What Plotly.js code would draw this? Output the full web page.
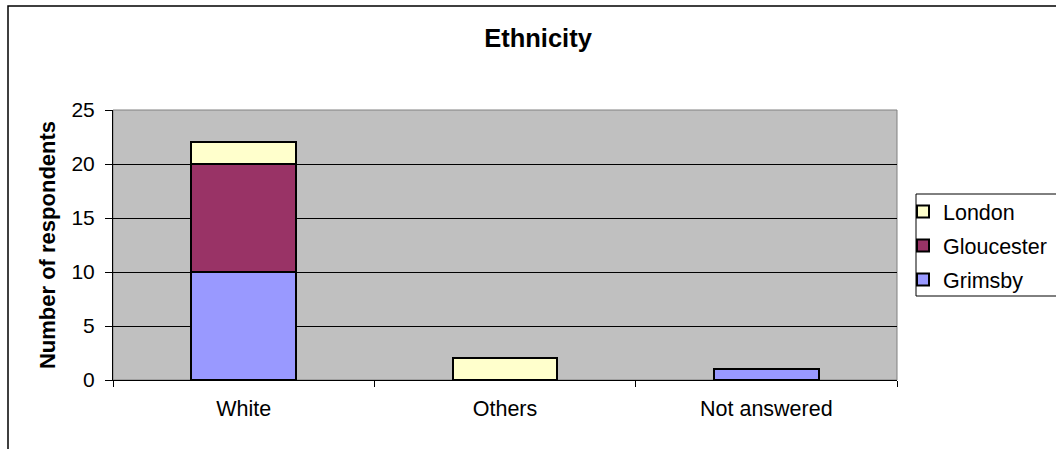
<!DOCTYPE html>
<html>
<head>
<meta charset="utf-8">
<script src="https://cdn.plot.ly/plotly-3.0.1.min.js"></script>
<style>html,body{margin:0;padding:0;background:#fff;}#chart{width:1056px;height:449px;}</style>
</head>
<body>
<div id="chart"></div>
<script>
var categories = ["White", "Others", "Not answered"];
var grimsby = [10, 0, 1];
var gloucester = [10, 0, 0];
var london = [2, 2, 0];
var yTicks = [0, 5, 10, 15, 20, 25];

var font = "Liberation Sans, Arial, sans-serif";
function bar(name, vals, color, grp, rank) {
  return {
    type: "bar", name: name, x: categories, y: vals, legendgroup: grp, legendrank: rank,
    marker: {color: color, line: {color: "#000", width: 2}},
    hoverinfo: "x+y+name"
  };
}
var data = [
  bar("Grimsby", grimsby, "#9999FF", "a", 3),
  bar("Gloucester", gloucester, "#993366", "b", 2),
  bar("London", london, "#FFFFCC", "c", 1)
];

var L = 113, R = 897, T = 110, B = 380;
function px(x) { return (x - L) / (R - L); }
function py(y) { return (B - y) / (B - T); }

var layout = {
  width: 1056, height: 449,
  margin: {l: L, r: 1056 - R, t: T, b: 449 - B, pad: 0, autoexpand: false},
  paper_bgcolor: "#fff",
  plot_bgcolor: "#C0C0C0",
  font: {family: font, color: "#000", size: 21},
  barmode: "stack",
  bargap: 0.6,
  showlegend: true,
  title: {text: "<b>Ethnicity</b>", font: {family: font, size: 25.5, color: "#000"},
          x: 538 / 1056, xref: "container", xanchor: "center", y: 1 - 38.5 / 449, yanchor: "middle"},
  xaxis: {
    type: "category", tickson: "boundaries", ticks: "outside", ticklen: 6, tickcolor: "#000",
    showline: true, linecolor: "#000", linewidth: 1, showgrid: false,
    ticklabelstandoff: 9,
    tickfont: {family: font, size: 21.5, color: "#000"}
  },
  yaxis: {
    range: [0, 25], tickvals: yTicks, ticktext: yTicks.map(String),
    ticks: "outside", ticklen: 7, tickcolor: "#000",
    showline: true, linecolor: "#000", linewidth: 1,
    showgrid: true, gridcolor: "#000", gridwidth: 1, zeroline: false,
    ticklabelstandoff: 6,
    tickfont: {family: font, size: 21, color: "#000"},
    title: {text: "<b>Number of respondents</b>", font: {family: font, size: 22, color: "#000"}, standoff: 9}
  },
  legend: {
    x: px(903), y: py(191), xanchor: "left", yanchor: "top",
    traceorder: "grouped", tracegroupgap: 3,
    bgcolor: "rgba(0,0,0,0)", borderwidth: 0,
    font: {family: font, size: 21.5, color: "#000"},
    itemwidth: 30
  },
  shapes: [
    {type: "rect", xref: "paper", yref: "paper", x0: 0, x1: 1, y0: 0, y1: 1,
     line: {color: "#808080", width: 1}, fillcolor: "rgba(0,0,0,0)", layer: "below"},
    {type: "rect", xref: "paper", yref: "paper", x0: px(916), x1: px(1070), y0: py(296), y1: py(194),
     line: {color: "#000", width: 1}, fillcolor: "rgba(0,0,0,0)"},
    {type: "rect", xref: "paper", yref: "paper", x0: px(8), x1: px(1080), y0: py(470), y1: py(6),
     line: {color: "#000", width: 1.5}, fillcolor: "rgba(0,0,0,0)"}
  ]
};

Plotly.newPlot("chart", data, layout, {displayModeBar: false, staticPlot: true});
</script>
</body>
</html>
